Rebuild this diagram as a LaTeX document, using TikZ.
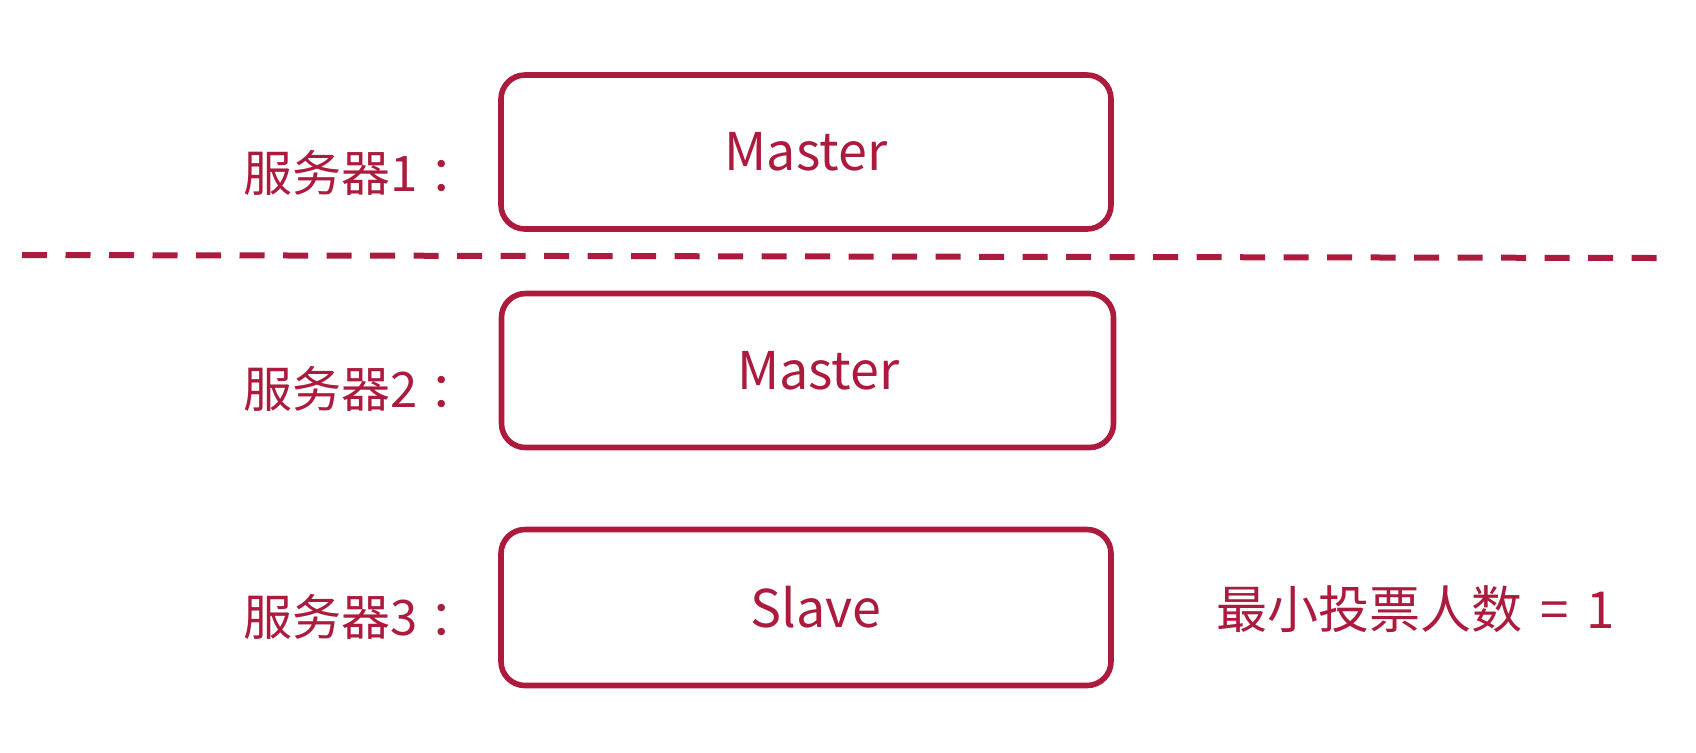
\documentclass[tikz,border=0pt]{standalone}
\usepackage{fontspec}
\setmainfont{Noto Sans CJK SC}
\definecolor{crim}{RGB}{172,27,62}
\begin{document}
\begin{tikzpicture}[x=0.5pt,y=-0.5pt,
  srvbox/.style={draw=crim,line width=2.8pt,rounded corners=12pt,minimum width=305pt,minimum height=77pt,inner sep=0pt,text=crim,font=\fontsize{26}{30}\selectfont},
  lbl/.style={text=crim,inner sep=0pt,font=\fontsize{24.5}{28}\selectfont},
  sep/.style={draw=crim,line width=3pt,dash pattern=on 12.5pt off 9.25pt}]
\useasboundingbox (0,0) rectangle (1696,752);
\node[srvbox] (b1) at (806,152) {Master};
\node[srvbox,minimum width=306pt] (b2) at (807.5,370.5) {\hspace*{11pt}Master};
\node[srvbox,minimum height=78pt] (b3) at (806,607.5) {\hspace*{10pt}Slave};
\node[lbl] (l1) at (361,173) {服务器1\hspace{6pt}：};
\node[lbl] (l2) at (361,389) {服务器2\hspace{6pt}：};
\node[lbl] (l3) at (361,617) {服务器3\hspace{6pt}：};
\node[lbl,font=\fontsize{25.5}{28}\selectfont] (v) at (1416,609) {最小投票人数\hspace{9pt}=\hspace{9pt}1};
\coordinate (dl) at (22,255);
\coordinate (dr) at (1660,258);
\draw[sep] (dl) -- (dr);
\end{tikzpicture}
\end{document}
